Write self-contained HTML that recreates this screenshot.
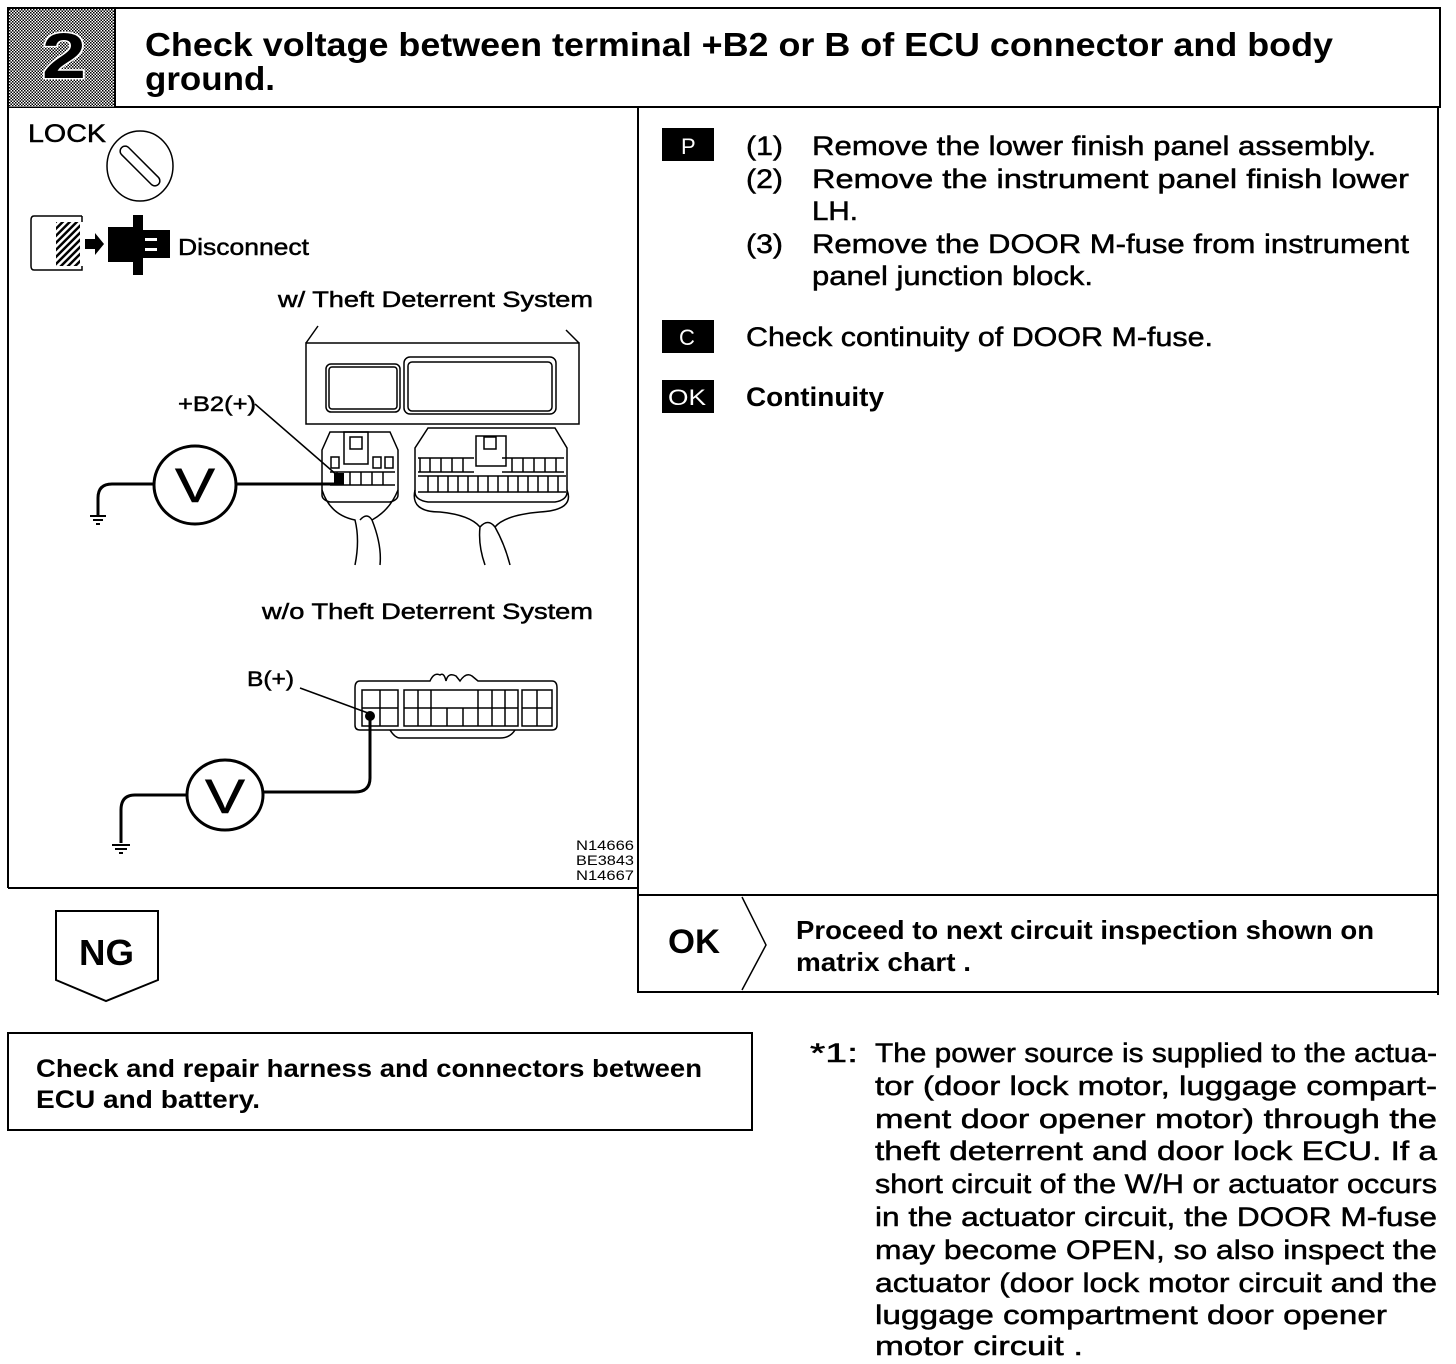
<!DOCTYPE html>
<html><head><meta charset="utf-8"><style>
html,body{margin:0;padding:0;background:#fff}
svg{display:block}
text{font-family:"Liberation Sans",sans-serif;fill:#000}
.b{font-weight:bold}
.m{stroke:#000;stroke-width:0.5}
</style></head><body>
<svg width="1456" height="1364" viewBox="0 0 1456 1364" xmlns="http://www.w3.org/2000/svg">
<defs>
<pattern id="dots" width="3" height="3" patternUnits="userSpaceOnUse"><rect width="3" height="3" fill="#fff"/><rect width="1.5" height="1.5" fill="#000"/><rect x="1.5" y="1.5" width="1.5" height="1.5" fill="#000"/></pattern>
<pattern id="hatch" width="5" height="5" patternUnits="userSpaceOnUse" patternTransform="rotate(45)"><rect width="5" height="5" fill="#fff"/><rect width="2.5" height="5" fill="#000"/></pattern>
</defs>
<g fill="none" stroke="#000" stroke-width="2">
<rect x="8" y="8" width="1432" height="99"/>
<rect x="9" y="9" width="106" height="98" fill="url(#dots)" stroke="none"/>
<line x1="115" y1="8" x2="115" y2="107"/>
<line x1="8" y1="107" x2="8" y2="888"/>
<line x1="8" y1="888" x2="638" y2="888"/>
<line x1="638" y1="107" x2="638" y2="993"/>
<line x1="1438" y1="107" x2="1438" y2="995"/>
<line x1="638" y1="895" x2="1438" y2="895"/>
<line x1="638" y1="992" x2="1438" y2="992"/>
<polyline points="742,897 766,945 742,990" stroke-width="1.5"/>
<polygon points="56,911 158,911 158,980 106,1001 56,980"/>
<rect x="8" y="1033" width="744" height="97"/>
</g>
<text x="64" y="78" class="b" font-size="64" text-anchor="middle" textLength="44" lengthAdjust="spacingAndGlyphs" stroke="#fff" stroke-width="3" paint-order="stroke">2</text>
<text x="145" y="56" class="b" font-size="33" textLength="1188" lengthAdjust="spacingAndGlyphs">Check voltage between terminal +B2 or B of ECU connector and body</text>
<text x="145" y="90" class="b" font-size="33" textLength="130" lengthAdjust="spacingAndGlyphs">ground.</text>

<text x="28" y="142" class="m" font-size="25" textLength="78" lengthAdjust="spacingAndGlyphs">LOCK</text>
<g fill="none" stroke="#000" stroke-width="1.5">
<ellipse cx="140" cy="166" rx="33" ry="35"/>
<g transform="rotate(45 140 166)"><rect x="114" y="161" width="52" height="10" rx="5"/></g>
<path d="M34,216 H82 M82,268 V270 H34 Q31,270 31,266 V220 Q31,216 34,216 M82,216 V222 M82,266 V270"/>
</g>
<rect x="56" y="222" width="24" height="44" fill="url(#hatch)"/>
<path d="M85,239 H95 V233 L104,244 L95,255 V249 H85 Z" fill="#000"/>
<path d="M108,227 H133 V215 H143 V230 H170 V258 H143 V275 H133 V262 H108 Z" fill="#000"/>
<rect x="145" y="238" width="12" height="3" fill="#fff"/><rect x="145" y="248" width="12" height="3" fill="#fff"/>
<text x="178" y="255" class="m" font-size="23" textLength="131" lengthAdjust="spacingAndGlyphs">Disconnect</text>

<text x="278" y="307" class="m" font-size="22" textLength="315" lengthAdjust="spacingAndGlyphs">w/ Theft Deterrent System</text>
<text x="178" y="411" class="m" font-size="21" textLength="78" lengthAdjust="spacingAndGlyphs">+B2(+)</text>
<g fill="none" stroke="#000" stroke-width="1.5">
<line x1="306" y1="343" x2="318" y2="326"/>
<line x1="566" y1="330" x2="579" y2="343"/>
<rect x="306" y="343" width="273" height="81"/>
<rect x="326" y="364" width="74" height="48" rx="5"/>
<rect x="329" y="367" width="68" height="42" rx="3"/>
<rect x="404" y="357" width="152" height="57" rx="6"/>
<rect x="408" y="362" width="144" height="49" rx="4"/>
<path d="M330,432 H390 L398,450 V495 Q398,500 390,502 H330 Q322,500 322,495 V450 Z"/>
<rect x="344" y="432" width="24" height="32"/>
<rect x="350" y="437" width="12" height="12"/>
<rect x="331" y="457" width="8" height="11"/><rect x="373" y="457" width="8" height="11"/><rect x="385" y="457" width="8" height="11"/>
<path d="M330,472 h65 M330,485 h65 M337,472v13 M350,472v13 M361,472v13 M372,472v13 M383,472v13"/>
<path d="M322,490 Q330,515 355,520 Q360,540 355,565 M398,490 Q390,510 372,520 Q382,545 380,565 M360,520 Q367,512 372,520"/>
<path d="M428,428 H555 L567,448 V492 Q567,500 555,502 H428 Q415,500 415,492 V448 Z"/>
<rect x="476" y="436" width="30" height="30"/><rect x="484" y="437" width="12" height="12"/>
<path d="M418,458 h56 M418,472 h56 M420,458v14 M430,458v14 M441,458v14 M452,458v14 M463,458v14"/>
<path d="M502,458 h62 M502,472 h62 M512,458v14 M523,458v14 M534,458v14 M545,458v14 M556,458v14"/>
<path d="M418,476 h148 M418,492 h148 M428,476v16 M438,476v16 M448,476v16 M458,476v16 M468,476v16 M478,476v16 M488,476v16 M498,476v16 M508,476v16 M518,476v16 M528,476v16 M538,476v16 M548,476v16 M558,476v16"/>
<path d="M415,490 Q410,512 440,512 Q470,515 480,527 Q478,545 485,565 M567,490 Q575,510 540,512 Q505,515 495,527 Q505,545 510,565 M480,527 Q488,518 495,527"/>
</g>
<line x1="255" y1="404" x2="338" y2="476" stroke="#000" stroke-width="1.5"/>
<g fill="none" stroke="#000" stroke-width="3">
<ellipse cx="195" cy="485" rx="41" ry="39"/>
<path d="M236,484 H336"/>
<path d="M154,484 H112 Q98,484 98,498 V515"/>
</g>
<rect x="334" y="473" width="10" height="12" fill="#000"/>
<path d="M90,516 H106 M93,520 H103 M96,524 H100" stroke="#000" stroke-width="2"/>
<text x="175" y="502" font-size="48" class="m" textLength="40" lengthAdjust="spacingAndGlyphs">V</text>

<text x="262" y="619" class="m" font-size="22" textLength="331" lengthAdjust="spacingAndGlyphs">w/o Theft Deterrent System</text>
<text x="247" y="686" class="m" font-size="21" textLength="47" lengthAdjust="spacingAndGlyphs">B(+)</text>
<line x1="300" y1="688" x2="368" y2="713" stroke="#000" stroke-width="1.5"/>
<g fill="none" stroke="#000" stroke-width="1.5">
<path d="M360,681 H430 Q434,672 440,675 Q444,672 446,681 Q448,672 456,676 L460,681 Q466,672 472,676 L478,681 H552 Q557,681 557,688 V725 Q557,730 552,730 H360 Q355,730 355,725 V688 Q355,681 360,681 Z"/>
<rect x="362" y="690" width="36" height="36"/>
<path d="M380,690v36 M362,708h36"/>
<rect x="404" y="690" width="114" height="36"/>
<path d="M404,708h114 M418,690v36 M431,690v36 M447,708v18 M463,708v18 M478,690v36 M492,690v36 M505,690v36"/>
<rect x="522" y="690" width="30" height="36"/>
<path d="M537,690v36 M522,708h30"/>
<path d="M390,730 Q395,738 400,738 H500 Q510,738 515,730"/>
</g>
<circle cx="370" cy="716" r="5" fill="#000"/>
<g fill="none" stroke="#000" stroke-width="3">
<ellipse cx="225" cy="795" rx="38" ry="35"/>
<path d="M370,716 V778 Q370,792 355,792 H263"/>
<path d="M187,795 H135 Q121,795 121,810 V843"/>
</g>
<path d="M112,845 H130 M115,849 H127 M119,853 H123" stroke="#000" stroke-width="2"/>
<text x="205" y="813" font-size="48" class="m" textLength="40" lengthAdjust="spacingAndGlyphs">V</text>
<text x="576" y="850" font-size="14" textLength="58" lengthAdjust="spacingAndGlyphs">N14666</text>
<text x="576" y="865" font-size="14" textLength="58" lengthAdjust="spacingAndGlyphs">BE3843</text>
<text x="576" y="880" font-size="14" textLength="58" lengthAdjust="spacingAndGlyphs">N14667</text>

<rect x="662" y="128" width="52" height="33" fill="#000"/>
<text x="681" y="154" font-size="22" style="fill:#fff">P</text>
<rect x="662" y="320" width="52" height="33" fill="#000"/>
<text x="679" y="345" font-size="22" style="fill:#fff">C</text>
<rect x="662" y="380" width="52" height="33" fill="#000"/>
<text x="668" y="405" font-size="22" style="fill:#fff" textLength="38" lengthAdjust="spacingAndGlyphs">OK</text>
<g font-size="27">
<text x="746" y="155" class="m" textLength="37" lengthAdjust="spacingAndGlyphs">(1)</text>
<text x="812" y="155" class="m" textLength="564" lengthAdjust="spacingAndGlyphs">Remove the lower finish panel assembly.</text>
<text x="746" y="188" class="m" textLength="37" lengthAdjust="spacingAndGlyphs">(2)</text>
<text x="812" y="188" class="m" textLength="597" lengthAdjust="spacingAndGlyphs">Remove the instrument panel finish lower</text>
<text x="812" y="220" class="m" textLength="46" lengthAdjust="spacingAndGlyphs">LH.</text>
<text x="746" y="253" class="m" textLength="37" lengthAdjust="spacingAndGlyphs">(3)</text>
<text x="812" y="253" class="m" textLength="597" lengthAdjust="spacingAndGlyphs">Remove the DOOR M-fuse from instrument</text>
<text x="812" y="285" class="m" textLength="281" lengthAdjust="spacingAndGlyphs">panel junction block.</text>
<text x="746" y="346" class="m" textLength="467" lengthAdjust="spacingAndGlyphs">Check continuity of DOOR M-fuse.</text>
<text x="746" y="406" class="b" textLength="138" lengthAdjust="spacingAndGlyphs">Continuity</text>
</g>
<text x="668" y="953" class="b" font-size="34" textLength="52" lengthAdjust="spacingAndGlyphs">OK</text>
<text x="796" y="939" class="b" font-size="26" textLength="578" lengthAdjust="spacingAndGlyphs">Proceed to next circuit inspection shown on</text>
<text x="796" y="971" class="b" font-size="26" textLength="175" lengthAdjust="spacingAndGlyphs">matrix chart .</text>
<text x="79" y="965" class="b" font-size="36" textLength="55" lengthAdjust="spacingAndGlyphs">NG</text>
<text x="36" y="1077" class="b" font-size="25" textLength="666" lengthAdjust="spacingAndGlyphs">Check and repair harness and connectors between</text>
<text x="36" y="1108" class="b" font-size="25" textLength="224" lengthAdjust="spacingAndGlyphs">ECU and battery.</text>

<g font-size="27">
<text x="810" y="1062" class="m" textLength="48" lengthAdjust="spacingAndGlyphs">*1:</text>
<text x="875" y="1062" class="m" textLength="562" lengthAdjust="spacingAndGlyphs">The power source is supplied to the actua-</text>
<text x="875" y="1095" class="m" textLength="562" lengthAdjust="spacingAndGlyphs">tor (door lock motor, luggage compart-</text>
<text x="875" y="1128" class="m" textLength="562" lengthAdjust="spacingAndGlyphs">ment door opener motor) through the</text>
<text x="875" y="1160" class="m" textLength="562" lengthAdjust="spacingAndGlyphs">theft deterrent and door lock ECU. If a</text>
<text x="875" y="1193" class="m" textLength="562" lengthAdjust="spacingAndGlyphs">short circuit of the W/H or actuator occurs</text>
<text x="875" y="1226" class="m" textLength="562" lengthAdjust="spacingAndGlyphs">in the actuator circuit, the DOOR M-fuse</text>
<text x="875" y="1259" class="m" textLength="562" lengthAdjust="spacingAndGlyphs">may become OPEN, so also inspect the</text>
<text x="875" y="1292" class="m" textLength="562" lengthAdjust="spacingAndGlyphs">actuator (door lock motor circuit and the</text>
<text x="875" y="1324" class="m" textLength="512" lengthAdjust="spacingAndGlyphs">luggage compartment door  opener</text>
<text x="875" y="1355" class="m" textLength="208" lengthAdjust="spacingAndGlyphs">motor  circuit .</text>
</g>
</svg>
</body></html>
